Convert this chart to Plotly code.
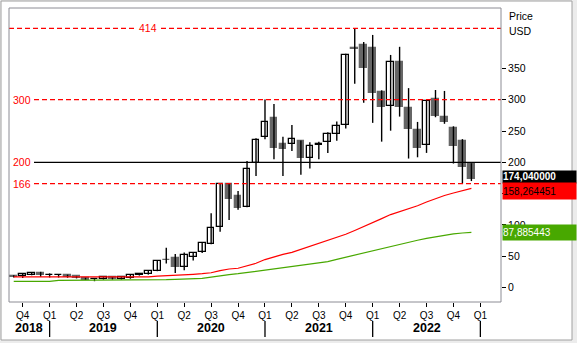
import plotly.graph_objects as go

# ---------------- data ----------------
months = ["2018-09", "2018-10", "2018-11", "2018-12",
          "2019-01", "2019-02", "2019-03", "2019-04", "2019-05", "2019-06",
          "2019-07", "2019-08", "2019-09", "2019-10", "2019-11", "2019-12",
          "2020-01", "2020-02", "2020-03", "2020-04", "2020-05", "2020-06",
          "2020-07", "2020-08", "2020-09", "2020-10", "2020-11", "2020-12",
          "2021-01", "2021-02", "2021-03", "2021-04", "2021-05", "2021-06",
          "2021-07", "2021-08", "2021-09", "2021-10", "2021-11", "2021-12",
          "2022-01", "2022-02", "2022-03", "2022-04", "2022-05", "2022-06",
          "2022-07", "2022-08", "2022-09", "2022-10", "2022-11", "2022-12"]
open_ = [18.5, 18.5, 20.5, 23,
         19.5, 20, 20, 18, 15.5, 13, 13, 16, 13, 15, 19.5, 21,
         27, 44, 47, 32, 48, 56, 70, 96, 166, 146, 129, 198.5,
         240, 270.5, 229, 229, 234, 207.5, 227, 233, 245, 259, 382.5, 387,
         382.5, 312, 289.5, 360, 286.5, 251.5, 227, 301, 272.5, 254.5, 233.5, 197.5]
high = [19.5, 22, 23.5, 25,
        22.5, 20.5, 20.5, 18.5, 15.8, 14, 16.5, 16.5, 16.5, 21.5, 23, 27.5,
        42.5, 63.5, 53.5, 56, 55, 72, 118.5, 166.5, 166.5, 154, 202, 238.5,
        300.5, 293, 241, 259.5, 235, 232, 233, 248, 265, 373.5, 414, 392,
        403.5, 315, 371.5, 384.5, 318.5, 264.5, 299, 315.5, 314, 257.5, 237, 198.5]
low = [16, 15, 19.5, 17,
       16, 16, 15.5, 14.5, 12, 10, 12.5, 12.5, 12.5, 14, 19, 20.5,
       26, 38.5, 23, 27.5, 43, 55, 69, 89, 108, 124, 128, 178,
       237, 205, 178, 218, 180, 190, 205, 215, 234.5, 254, 325.5, 295,
       263, 233, 250.5, 273, 206, 208, 215, 272, 261.5, 198, 166, 170]
close = [17.5, 21, 22.5, 20.5,
         20, 20.3, 16.5, 15, 12.5, 13.5, 16, 13, 16, 20, 22, 26,
         42, 43.5, 33, 51.5, 54.5, 70.5, 94.5, 165, 142, 127.5, 189, 235.5,
         264, 223.5, 221, 236.5, 207, 225.5, 229, 245, 258, 371.5, 381.5, 351,
         311, 289, 359.5, 289, 252.5, 223.5, 298, 274.5, 265, 226.5, 193, 174.04]
ma_red = [17, 17, 17, 17,
          16.5, 16.3, 16.3, 16.3, 16.3, 16.3, 16.3, 16.3, 16.3, 16.3, 16.5, 17,
          18, 18.5, 19.5, 20, 21, 22, 23.5, 26.9, 29.5, 30.7, 34.5, 38.7,
          44.6, 49.2, 53, 56.2, 61, 65.3, 69.5, 74.8, 79.6, 85, 91, 97,
          103, 110, 116.5, 121, 125.5, 130.5, 136.5, 142, 147, 151, 154.5, 158.264451]
ma_green = [9.9, 9.9, 9.9, 9.9,
            9.9, 11.5, 11.5, 11.5, 11.5, 11.5, 11.5, 11.5, 11.5, 11.5, 11.5, 12.5,
            12.5, 12.5, 13, 13.5, 14.1, 14.5, 16.5, 19, 20.5, 22, 24, 26.5,
            28.5, 29.6, 32, 34, 36, 38, 39.5, 41.3, 45, 48.5, 51.5, 55,
            58.5, 62, 65.5, 69, 72.5, 75.5, 78.5, 81, 83.5, 85.5, 87, 87.885443]
levels_dashed = [414, 300, 166]
level_solid = 200
last_labels = ["174,040000", "158,264451", "87,885443"]
y_ticks = [0, 50, 100, 150, 200, 250, 300, 350]
y_ticktext = ["0", "50", "100", "", "200", "250", "300", "350"]  # 150 hidden behind value box
years = [2018, 2019, 2020, 2021, 2022]

# ---------------- geometry ----------------
W, H = 577, 343
ML, MR, MT, MB = 9, 76, 8, 41
PW, PH = W - ML - MR, H - MT - MB


def px_x(px):
    return (px - ML) / PW


def px_y(py):
    return (H - MB - py) / PH


def midx(m):
    y, mo = m.split("-")
    return (int(y) - 2018) * 12 + int(mo) - 10  # 0 = Oct 2018


xi = [midx(m) for m in months]
X_RANGE = [-1.527, 53.3]
Y_RANGE = [-23.2, 446.5]

RED = "#ff0000"
GREEN = "#48a800"
GRAY = "#666666"

fig = go.Figure()

# wicks
wx, wy = [], []
for x, h, l in zip(xi, high, low):
    wx += [x, x, None]
    wy += [l, h, None]
fig.add_trace(go.Scatter(x=wx, y=wy, mode="lines", line=dict(color="black", width=1.4),
                         hoverinfo="skip", showlegend=False))

# bodies
base, hgt, fill, lcol = [], [], [], []
for o, c in zip(open_, close):
    up = c >= o
    base.append(min(o, c))
    hgt.append(max(abs(c - o), 0.4))
    fill.append("white" if up else GRAY)
    lcol.append("black" if up else GRAY)
fig.add_trace(go.Bar(x=xi, y=hgt, base=base, width=0.74,
                     marker=dict(color=fill, line=dict(color=lcol, width=1.3)),
                     showlegend=False))

# moving averages
fig.add_trace(go.Scatter(x=xi, y=ma_green, mode="lines", line=dict(color=GREEN, width=1.2),
                         showlegend=False))
fig.add_trace(go.Scatter(x=xi, y=ma_red, mode="lines", line=dict(color=RED, width=1.2),
                         showlegend=False))

shapes = []
annotations = []

# outer frame
shapes.append(dict(type="rect", xref="paper", yref="paper", layer="below",
                   x0=px_x(1), x1=px_x(572), y0=px_y(340), y1=px_y(1),
                   line=dict(color="#a0a0a0", width=1), fillcolor="white"))

# level lines
for lv in levels_dashed:
    if lv == max(levels_dashed):
        segs = [(px_x(9), px_x(136)), (px_x(161), 1)]
        annotations.append(dict(x=px_x(148), y=lv, xref="paper", yref="y", text=str(lv),
                                showarrow=False, font=dict(color=RED, size=10.5,
                                family="Liberation Sans"), xanchor="center", yanchor="middle"))
    else:
        segs = [(px_x(34), 1)]
        annotations.append(dict(x=px_x(11), y=lv, xref="paper", yref="y", text=str(lv),
                                showarrow=False, font=dict(color=RED, size=10.5,
                                family="Liberation Sans"), xanchor="left", yanchor="middle"))
    for a, b in segs:
        shapes.append(dict(type="line", xref="paper", yref="y", x0=a, x1=b, y0=lv, y1=lv,
                           layer="above", line=dict(color=RED, width=1.3, dash="5px,3px")))
shapes.append(dict(type="line", xref="paper", yref="y", x0=px_x(34), x1=1,
                   y0=level_solid, y1=level_solid, layer="above",
                   line=dict(color="black", width=1.2)))
annotations.append(dict(x=px_x(11), y=level_solid, xref="paper", yref="y", text=str(level_solid),
                        showarrow=False, font=dict(color=RED, size=10.5, family="Liberation Sans"),
                        xanchor="left", yanchor="middle"))

# plot border
shapes.append(dict(type="rect", xref="paper", yref="paper", x0=0, x1=1, y0=0, y1=1,
                   layer="above", line=dict(color="#8c8c94", width=1)))

# quarter ticks
q_vals, q_text = [], []
for k in range(0, 52, 3):
    q_vals.append(k)
    q_text.append("Q%d" % (((k // 3) + 3) % 4 + 1))

# year labels and separators
for yr in years:
    jan = (yr - 2018) * 12 - 9
    a = max(jan, X_RANGE[0])
    b = jan + 12
    annotations.append(dict(x=(a + b) / 2, y=px_y(328), xref="x", yref="paper", text="<b>%d</b>" % yr,
                            showarrow=False, font=dict(size=12.5, color="black",
                            family="Liberation Sans"), xanchor="center", yanchor="middle"))
    shapes.append(dict(type="line", xref="x", yref="paper", x0=b, x1=b,
                       y0=px_y(337), y1=px_y(321), line=dict(color="black", width=1.3)))

# price / usd
for txt, py in [("Price", 16), ("USD", 31)]:
    annotations.append(dict(x=px_x(507), y=px_y(py), xref="paper", yref="paper", text=txt,
                            showarrow=False, font=dict(size=10.5, color="black",
                            family="Liberation Sans"), xanchor="left", yanchor="middle"))

# last value boxes
boxes = [(last_labels[0], 171, 182.7, "black", "white", True),
         (last_labels[1], 182.7, 199, RED, "black", False),
         (last_labels[2], 225.3, 240, GREEN, "white", False)]
for txt, t, b, bg, fc, bold in boxes:
    annotations.append(dict(x=px_x(502), y=px_y((t + b) / 2), xref="paper", yref="paper",
                            text=("<b>%s</b>" % txt) if bold else txt, showarrow=False,
                            xanchor="left", yanchor="middle", align="left",
                            width=73, height=b - t, borderpad=0, bgcolor=bg,
                            font=dict(size=10, color=fc, family="Liberation Sans")))

fig.update_layout(
    width=W, height=H,
    margin=dict(l=ML, r=MR, t=MT, b=MB),
    paper_bgcolor="#ececec", plot_bgcolor="white",
    barmode="overlay", bargap=0,
    shapes=shapes, annotations=annotations,
    xaxis=dict(range=X_RANGE, tickmode="array", tickvals=q_vals, ticktext=q_text,
               ticks="outside", ticklen=4, tickcolor="black", showgrid=False,
               zeroline=False, showline=False,
               tickfont=dict(size=10, color="black", family="Liberation Sans")),
    yaxis=dict(range=Y_RANGE, side="right", tickmode="array", tickvals=y_ticks,
               ticktext=y_ticktext,
               ticks="outside", ticklen=4, tickcolor="black", showgrid=False,
               zeroline=False, showline=False,
               tickfont=dict(size=10.5, color="black", family="Liberation Sans")),
)

fig.write_html("out.html")
